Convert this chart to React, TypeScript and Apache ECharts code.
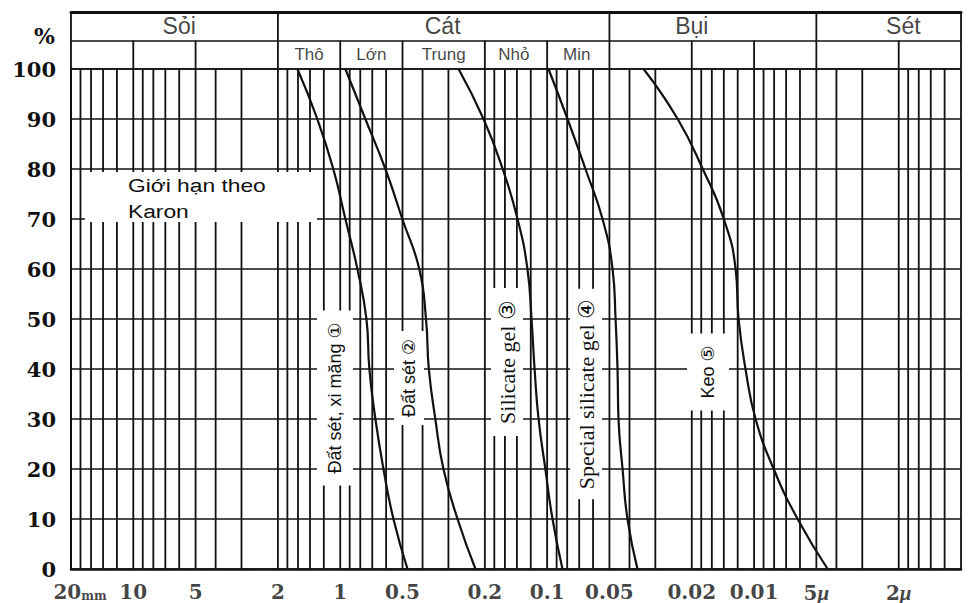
import React, { useEffect, useRef } from "react";
import * as echarts from "echarts";

// ---- data ----
const percentLevels = [100, 90, 80, 70, 60, 50, 40, 30, 20, 10, 0];
// grain diameter (mm) at each percent level
const curve1 = [1.61, 1.29, 1.08, 0.944, 0.826, 0.747, 0.723, 0.676, 0.618, 0.553, 0.473];
const curve2 = [0.944, 0.756, 0.605, 0.501, 0.415, 0.385, 0.373, 0.347, 0.317, 0.271, 0.222];
const curve3 = [0.268, 0.203, 0.164, 0.139, 0.1245, 0.119, 0.115, 0.11, 0.102, 0.0942, 0.0843];
const curve4 = [0.0985, 0.0797, 0.0653, 0.054, 0.0483, 0.0467, 0.0457, 0.0452, 0.0432, 0.0409, 0.0366];
const curve5 = [0.0342, 0.0234, 0.0177, 0.014, 0.01228, 0.01188, 0.011, 0.00983, 0.00804, 0.00616, 0.00441];
const curves = [curve1, curve2, curve3, curve4, curve5];
const curveNames = ["Đất sét, xi măng", "Đất sét", "Silicate gel", "Special silicate gel", "Keo"];
const curveMarks = ["①", "②", "③", "④", "⑤"];

const xTickValues = [20, 10, 5, 2, 1, 0.5, 0.2, 0.1, 0.05, 0.02, 0.01, 0.005, 0.002];
const xTickLabels = ["20mm", "10", "5", "2", "1", "0.5", "0.2", "0.1", "0.05", "0.02", "0.01", "5μ", "2μ"];

const gridMantissas = [1, 1.2, 1.4, 1.6, 1.8, 2, 3, 4, 5, 6, 7, 8, 9];
const gridDecades = [0.001, 0.01, 0.1, 1, 10];

const headerGroups = ["Sỏi", "Cát", "Bụi", "Sét"];
const headerGroupLabelAt = [6, 0.32, 0.02, 0.0019];
const headerGroupDividers = [20, 2, 0.05, 0.005, 0.001];
const headerSubLabels = ["Thô", "Lớn", "Trung", "Nhỏ", "Min"];
const headerSubLabelAt = [1.414, 0.707, 0.316, 0.145, 0.072];
const headerSubDividers = [10, 5, 1, 0.5, 0.2, 0.1, 0.02, 0.01, 0.002];

const X_MIN = 0.001;
const X_MAX = 20;

const INK = "#111";
const SERIF = '"DejaVu Serif", serif';
const TIMES = '"Liberation Serif", "Times New Roman", serif';
const SANS = '"Liberation Sans", Arial, "DejaVu Sans", sans-serif';

function buildOption() {
  const vertGrid: number[] = [];
  gridDecades.forEach((dec) =>
    gridMantissas.forEach((m) => {
      const v = +(m * dec).toPrecision(4);
      if (v <= X_MAX) vertGrid.push(v);
    })
  );
  if (!vertGrid.includes(X_MAX)) vertGrid.push(X_MAX);

  const lineSeries = curves.map((c, i) => ({
    type: "line",
    name: curveNames[i],
    xAxisIndex: 0,
    yAxisIndex: 0,
    data: c.map((d, k) => [d, percentLevels[k]]),
    smooth: 0.5,
    symbol: "none",
    lineStyle: { color: INK, width: 2.2 },
    z: 5,
    silent: true,
  }));

  // vertical rulings of the log paper
  const vGridSeries = {
    type: "custom",
    xAxisIndex: 0,
    yAxisIndex: 0,
    silent: true,
    clip: false,
    z: 1,
    data: vertGrid.map((v) => [v, 100]),
    renderItem: (_p: any, api: any) => {
      const v = api.value(0);
      const a = api.coord([v, 0]);
      const b = api.coord([v, api.value(1)]);
      return {
        type: "line",
        shape: { x1: a[0], y1: a[1], x2: b[0], y2: b[1] },
        style: { stroke: INK, lineWidth: 1.8 },
      };
    },
  };

  const xLabelSeries = {
    type: "scatter",
    xAxisIndex: 0,
    yAxisIndex: 0,
    symbolSize: 0,
    itemStyle: { color: "transparent" },
    silent: true,
    z: 3,
    data: xTickValues.map((v, i) => ({
      value: [v, 0],
      name: xTickLabels[i],
      label: i === 0 ? { offset: [9, 0] } : undefined,
    })),
    label: {
      show: true,
      position: "bottom",
      distance: 13,
      formatter: (p: any) => {
        const t: string = p.name;
        if (t.endsWith("mm")) return `{a|${t.slice(0, -2)}}{s|mm}`;
        if (t.endsWith("μ")) return `{a|${t.slice(0, -1)}}{u|μ}`;
        return `{a|${t}}`;
      },
      rich: {
        a: { fontFamily: SERIF, fontWeight: "bold", fontSize: 20, color: INK },
        s: { fontFamily: SERIF, fontWeight: "bold", fontSize: 12, color: INK, padding: [7, 0, 0, 0] },
        u: { fontFamily: TIMES, fontStyle: "italic", fontWeight: "bold", fontSize: 21, color: INK },
      },
    },
  };

  const headerDividerSeries = {
    type: "custom",
    xAxisIndex: 1,
    yAxisIndex: 1,
    silent: true,
    clip: false,
    z: 1,
    data: [
      ...headerGroupDividers.map((v) => [v, 2]),
      ...headerSubDividers.map((v) => [v, 1]),
    ],
    renderItem: (_p: any, api: any) => {
      const v = api.value(0);
      const a = api.coord([v, 0]);
      const b = api.coord([v, api.value(1)]);
      return {
        type: "line",
        shape: { x1: a[0], y1: a[1], x2: b[0], y2: b[1] },
        style: { stroke: INK, lineWidth: 1.8 },
      };
    },
  };

  const headerLabelSeries = {
    type: "scatter",
    xAxisIndex: 1,
    yAxisIndex: 1,
    symbolSize: 0,
    itemStyle: { color: "transparent" },
    silent: true,
    z: 3,
    data: [
      ...headerGroups.map((n, i) => ({
        value: [headerGroupLabelAt[i], 1.5],
        name: n,
        label: { fontSize: 23 },
      })),
      ...headerSubLabels.map((n, i) => ({
        value: [headerSubLabelAt[i], 0.5],
        name: n,
        label: { fontSize: 17 },
      })),
    ],
    label: {
      show: true,
      position: "inside",
      formatter: "{b}",
      fontFamily: SANS,
      color: INK,
    },
  };

  const rotatedLabel = (i: number, x: number, y: number, family: string, size: number, pad: number[]) => ({
    type: "text",
    z: 100,
    x,
    y,
    rotation: Math.PI / 2,
    silent: true,
    style: {
      text: `${curveNames[i]} ${curveMarks[i]}`,
      fontFamily: family,
      fontSize: size,
      fill: INK,
      align: "center",
      verticalAlign: "middle",
      backgroundColor: "#fff",
      padding: pad,
    },
  });

  return {
    animation: false,
    backgroundColor: "#fff",
    grid: [
      { left: 71, right: 8, top: 69, bottom: 34 },
      { left: 71, right: 8, top: 12, height: 57 },
    ],
    xAxis: [
      {
        type: "log",
        logBase: 10,
        gridIndex: 0,
        min: X_MIN,
        max: X_MAX,
        inverse: true,
        axisLine: { show: true, onZero: false, lineStyle: { color: INK, width: 2.5 } },
        axisTick: { show: false },
        axisLabel: { show: false },
        splitLine: { show: false },
      },
      {
        type: "log",
        logBase: 10,
        gridIndex: 1,
        position: "top",
        min: X_MIN,
        max: X_MAX,
        inverse: true,
        axisLine: { show: true, onZero: false, lineStyle: { color: INK, width: 3 } },
        axisTick: { show: false },
        axisLabel: { show: false },
        splitLine: { show: false },
      },
    ],
    yAxis: [
      {
        type: "value",
        gridIndex: 0,
        min: 0,
        max: 100,
        interval: 10,
        axisLine: { show: true, onZero: false, lineStyle: { color: INK, width: 2 } },
        axisTick: { show: false },
        axisLabel: {
          margin: 15,
          fontFamily: SERIF,
          fontWeight: "bold",
          fontSize: 21,
          color: INK,
        },
        splitLine: { show: true, lineStyle: { color: INK, width: 1.7 } },
      },
      {
        type: "value",
        gridIndex: 1,
        min: 0,
        max: 2,
        interval: 1,
        axisLine: { show: false },
        axisTick: { show: false },
        axisLabel: { show: false },
        splitLine: { show: true, lineStyle: { color: INK, width: 1.7 } },
      },
    ],
    series: [...lineSeries, vGridSeries, xLabelSeries, headerDividerSeries, headerLabelSeries],
    graphic: [
      {
        type: "text",
        z: 100,
        x: 55,
        y: 36,
        silent: true,
        style: {
          text: "%",
          fontFamily: SERIF,
          fontWeight: "bold",
          fontSize: 22,
          fill: INK,
          align: "right",
          verticalAlign: "middle",
        },
      },
      {
        type: "rect",
        z: 100,
        silent: true,
        shape: { x: 85, y: 172, width: 232, height: 50 },
        style: { fill: "#fff" },
      },
      {
        type: "text",
        z: 101,
        x: 128,
        y: 172,
        scaleX: 1.2,
        silent: true,
        style: {
          text: "Giới hạn theo\nKaron",
          fontFamily: SANS,
          fontSize: 19,
          lineHeight: 26,
          fill: INK,
          align: "left",
          verticalAlign: "top",
        },
      },
      rotatedLabel(0, 335, 398, SANS, 18, [9, 12, 9, 12]),
      rotatedLabel(1, 409, 378, SANS, 18, [6, 8, 6, 8]),
      rotatedLabel(2, 507, 362, TIMES, 22, [5, 12, 5, 12]),
      rotatedLabel(3, 586, 394, TIMES, 22, [5, 10, 5, 10]),
      rotatedLabel(4, 708, 372, SANS, 18, [12, 12, 12, 12]),
    ],
  };
}

export default function App() {
  const ref = useRef<HTMLDivElement>(null);
  useEffect(() => {
    if (!ref.current) return;
    const chart = echarts.init(ref.current, undefined, { renderer: "svg" });
    chart.setOption(buildOption() as any);
    return () => chart.dispose();
  }, []);
  return (
    <div
      ref={ref}
      style={{ width: 969, height: 603, position: "absolute", left: 0, top: 0, background: "#fff" }}
    />
  );
}
